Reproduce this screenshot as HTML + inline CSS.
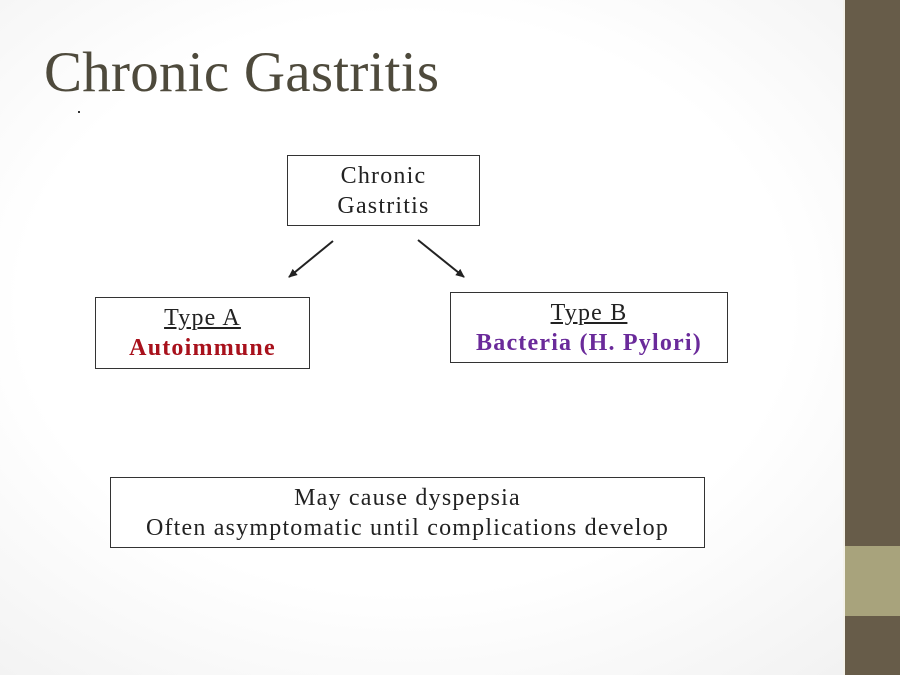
<!DOCTYPE html>
<html><head><style>
body{margin:0;width:900px;height:675px;overflow:hidden;background:radial-gradient(ellipse at 45% 45%,#ffffff 55%,#f0f0f0 100%);font-family:"Liberation Serif",serif;position:relative}
.bar{position:absolute;left:843px;top:0;width:57px;height:675px;background:#675c49;border-left:2px solid #f4f2ea;box-sizing:border-box}
.ol{position:absolute;left:845px;top:546px;width:55px;height:70px;background:#a8a37c}
.t{position:absolute;left:44px;top:40px;font-size:57px;color:#4e4a3c;letter-spacing:0.25px}
.b{position:absolute;border:1px solid #333;background:#fff;box-sizing:border-box;text-align:center;font-size:24px;letter-spacing:1.2px;color:#222;line-height:30px;display:flex;flex-direction:column;justify-content:center}
u{text-decoration:underline}
</style></head><body>
<div class="bar"></div><div class="ol"></div>
<div class="t">Chronic Gastritis</div>
<div style="position:absolute;left:78px;top:111px;width:2px;height:2px;background:#333"></div>
<div class="b" style="left:287px;top:155px;width:193px;height:71px">Chronic<br>Gastritis</div>
<div class="b" style="left:95px;top:297px;width:215px;height:72px"><u>Type A</u><b style="color:#a8111c">Autoimmune</b></div>
<div class="b" style="left:450px;top:292px;width:278px;height:71px"><u>Type B</u><b style="color:#6a2a9a">Bacteria (H. Pylori)</b></div>
<div class="b" style="left:110px;top:477px;width:595px;height:71px">May cause dyspepsia<br>Often asymptomatic until complications develop</div>
<svg width="900" height="675" style="position:absolute;left:0;top:0">
<defs><marker id="a" markerWidth="10" markerHeight="10" refX="8" refY="5" orient="auto" markerUnits="userSpaceOnUse"><path d="M0,1 L9,5 L0,9 z" fill="#222"/></marker></defs>
<line x1="333" y1="241" x2="289" y2="277" stroke="#222" stroke-width="2" marker-end="url(#a)"/>
<line x1="418" y1="240" x2="464" y2="277" stroke="#222" stroke-width="2" marker-end="url(#a)"/>
</svg>
</body></html>
